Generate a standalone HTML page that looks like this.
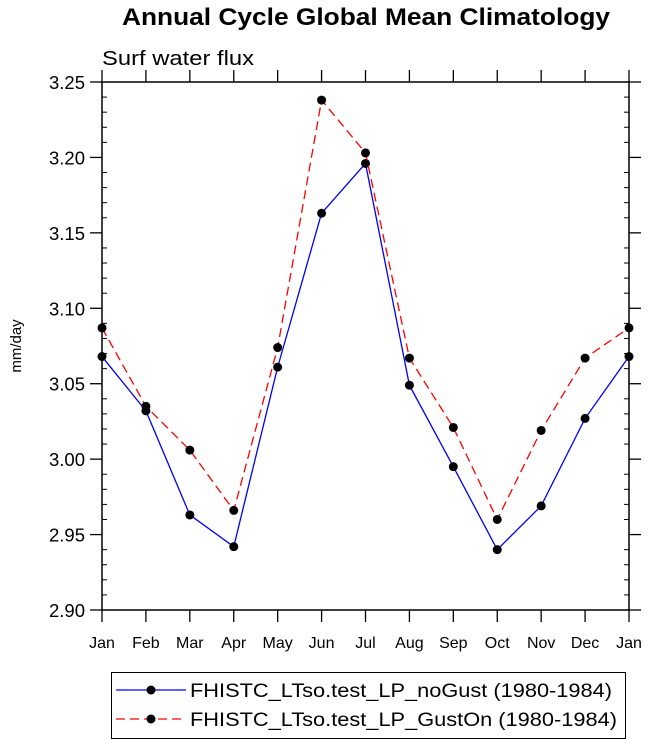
<!DOCTYPE html>
<html><head><meta charset="utf-8"><style>
html,body{margin:0;padding:0;background:#fff;}
svg{display:block;font-family:"Liberation Sans",Arial,sans-serif;}
</style></head><body>
<svg id="chart" width="648" height="746" viewBox="0 0 648 746">
<text x="122" y="25" font-size="24" font-weight="bold" textLength="488" lengthAdjust="spacingAndGlyphs">Annual Cycle Global Mean Climatology</text>
<text x="102" y="65" font-size="20" textLength="152" lengthAdjust="spacingAndGlyphs">Surf water flux</text>
<text transform="translate(21,346) rotate(-90)" text-anchor="middle" font-size="15">mm/day</text>
<g id="axes"></g>
<g id="series"></g>
<g id="legend">
<rect x="111.5" y="672.5" width="514" height="66" fill="#fff" stroke="#000" stroke-width="1"/>
<g>
<line x1="116" y1="690" x2="186" y2="690" stroke="#0000ff" stroke-width="1.3"/>
<circle cx="151" cy="690" r="4.5" fill="#000"/>
<text x="190" y="697" font-size="19" textLength="422" lengthAdjust="spacingAndGlyphs">FHISTC_LTso.test_LP_noGust (1980-1984)</text>
</g>
<g>
<line x1="116" y1="719" x2="186" y2="719" stroke="#ff0000" stroke-width="1.3" stroke-dasharray="9,5"/>
<circle cx="151" cy="719" r="4.5" fill="#000"/>
<text x="190" y="726" font-size="19" textLength="427" lengthAdjust="spacingAndGlyphs">FHISTC_LTso.test_LP_GustOn (1980-1984)</text>
</g>
</g>
</svg>
<script>
const months = ["Jan","Feb","Mar","Apr","May","Jun","Jul","Aug","Sep","Oct","Nov","Dec","Jan"];
const noGust = [3.068,3.032,2.963,2.942,3.061,3.163,3.196,3.049,2.995,2.940,2.969,3.027,3.068];
const gustOn = [3.087,3.035,3.006,2.966,3.074,3.238,3.203,3.067,3.021,2.960,3.019,3.067,3.087];
const yTicks = [2.90,2.95,3.00,3.05,3.10,3.15,3.20,3.25];
const yMin = 2.90, yMax = 3.25;
const L=102,R=629,T=82,B=610;
const NS="http://www.w3.org/2000/svg";
function X(i){return L+(R-L)*i/(months.length-1);}
function Y(v){return B-(v-yMin)/(yMax-yMin)*(B-T);}
function mk(tag,attrs,parent){const e=document.createElementNS(NS,tag);for(const k in attrs)e.setAttribute(k,attrs[k]);parent.appendChild(e);return e;}
const axes=document.getElementById('axes');
const frame=mk('rect',{x:L,y:T,width:R-L,height:B-T,fill:'none',stroke:'#000','stroke-width':1.5},axes);


yTicks.forEach((v,i)=>{
  const y=Y(v);
  mk('line',{x1:L-12,y1:y,x2:L,y2:y,stroke:'#000','stroke-width':1.3},axes);
  mk('line',{x1:R,y1:y,x2:R+12,y2:y,stroke:'#000','stroke-width':1.3},axes);
  const t=mk('text',{x:L-17,y:y+7,'text-anchor':'end','font-size':18.5},axes);
  t.textContent=v.toFixed(2);
  
  
  if(i<yTicks.length-1){
    for(let k=1;k<5;k++){
      const ym=Y(v+(yTicks[1]-yTicks[0])*k/5);
      mk('line',{x1:L,y1:ym,x2:L+5,y2:ym,stroke:'#000','stroke-width':1},axes);
      mk('line',{x1:R-5,y1:ym,x2:R,y2:ym,stroke:'#000','stroke-width':1},axes);
    }
  }
});
months.forEach((m,i)=>{
  const x=X(i);
  mk('line',{x1:x,y1:B,x2:x,y2:B+12,stroke:'#000','stroke-width':1.3},axes);
  mk('line',{x1:x,y1:T-12,x2:x,y2:T,stroke:'#000','stroke-width':1.3},axes);
  const t=mk('text',{x:x,y:B+38,'text-anchor':'middle','font-size':16},axes);
  t.textContent=m;
  
  
});
const series=document.getElementById('series');
function draw(vals,color,dash,name){
  const g=mk('g',{},series);
  
  
  const pts=vals.map((v,i)=>X(i)+','+Y(v)).join(' ');
  const a={points:pts,fill:'none',stroke:color,'stroke-width':1.3};
  if(dash)a['stroke-dasharray']=dash;
  mk('polyline',a,g);
  vals.forEach((v,i)=>{
    const c=mk('circle',{cx:X(i),cy:Y(v),r:4.5,fill:'#000'},g);
    
    
  });
}
draw(noGust,'#0000ff',null,'series-nogust');
draw(gustOn,'#ff0000','9,5','series-guston');
</script>
</body></html>
